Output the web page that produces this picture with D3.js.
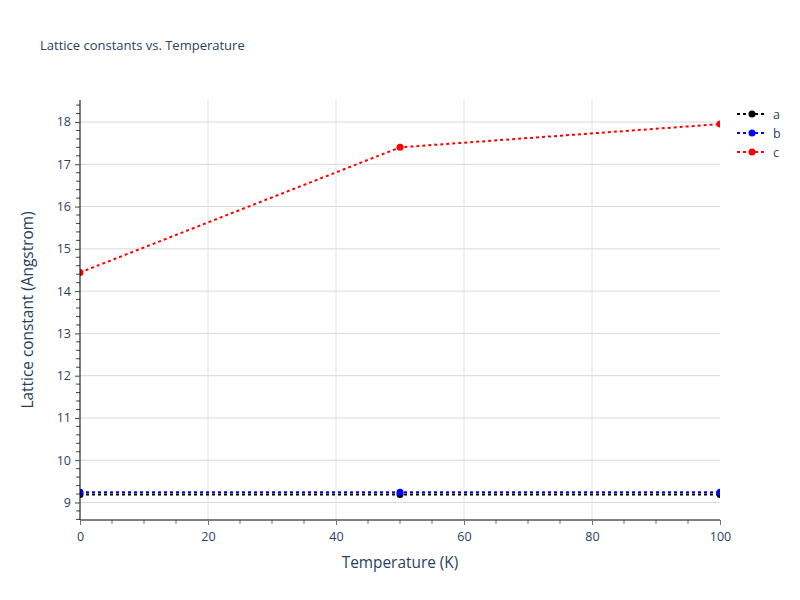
<!DOCTYPE html>
<html>
<head>
<meta charset="utf-8">
<script src="https://cdn.jsdelivr.net/npm/d3@7"></script>
<style>
  body { margin: 0; background: #fff; }
  text { font-family: "Open Sans", sans-serif; }
</style>
</head>
<body>
<svg id="chart" width="800" height="600"></svg>
<script>
// data
var temperatures = [0, 50, 100];
var seriesNames = ['a', 'b', 'c'];
var seriesColors = ['#000000', '#0000ff', '#ff0000'];
var aValues = [9.19, 9.19, 9.19];
var bValues = [9.24, 9.24, 9.24];
var cValues = [14.44, 17.40, 17.95];
var xTicks = [0, 20, 40, 60, 80, 100];
var yTicks = [9, 10, 11, 12, 13, 14, 15, 16, 17, 18];

(function() {
	var series = [aValues, bValues, cValues].map(function(vals, i) {
		return { name: seriesNames[i], color: seriesColors[i], values: vals };
	});

	var svg = d3.select('#chart');
	var mLeft = 80, mRight = 720, mTop = 100, mBottom = 520;
	var textColor = '#2a3f5f';

	var x = d3.scaleLinear().domain([0, 100]).range([mLeft, mRight]);
	var y = d3.scaleLinear().domain([8.586, 18.52]).range([mBottom, mTop]);

	// grid
	svg.append('g').selectAll('line').data(yTicks).enter().append('line')
		.attr('x1', mLeft).attr('x2', mRight)
		.attr('y1', function(d) { return y(d); }).attr('y2', function(d) { return y(d); })
		.attr('stroke', '#d9d9d9').attr('stroke-width', 1);
	svg.append('g').selectAll('line').data(xTicks.slice(1, -1)).enter().append('line')
		.attr('y1', mTop).attr('y2', mBottom)
		.attr('x1', function(d) { return x(d); }).attr('x2', function(d) { return x(d); })
		.attr('stroke', '#e2e2e2').attr('stroke-width', 1);

	// traces, clipped to the plot area
	svg.append('clipPath').attr('id', 'plotclip').append('rect')
		.attr('x', mLeft).attr('y', mTop).attr('width', mRight - mLeft).attr('height', mBottom - mTop);
	var plot = svg.append('g').attr('clip-path', 'url(#plotclip)');

	var line = d3.line()
		.x(function(d, i) { return x(temperatures[i]); })
		.y(function(d) { return y(d); });

	series.forEach(function(s) {
		plot.append('path').datum(s.values)
			.attr('d', line)
			.attr('fill', 'none')
			.attr('stroke', s.color)
			.attr('stroke-width', 2)
			.attr('stroke-dasharray', '3,3');
		plot.selectAll(null).data(s.values).enter().append('circle')
			.attr('cx', function(d, i) { return x(temperatures[i]); })
			.attr('cy', function(d) { return y(d); })
			.attr('r', 3.5)
			.attr('fill', s.color);
	});

	// y axis
	var yAxis = d3.axisLeft(y).tickValues(yTicks).tickSize(5).tickPadding(4).tickFormat(d3.format('d'));
	var yMinor = d3.range(8.6, 18.5, 0.2).filter(function(v) { return Math.abs(v - Math.round(v)) > 0.01; });
	var gy = svg.append('g').attr('transform', 'translate(' + mLeft + ',0)');
	gy.selectAll('line.minor').data(yMinor).enter().append('line')
		.attr('class', 'minor')
		.attr('x1', -4).attr('x2', 0)
		.attr('y1', function(d) { return y(d); }).attr('y2', function(d) { return y(d); })
		.attr('stroke', '#444');
	gy.call(yAxis);
	gy.select('.domain').attr('stroke', '#000').attr('d', 'M0,' + mTop + 'V' + mBottom);
	gy.selectAll('.tick line').attr('stroke', '#444');
	gy.selectAll('.tick text').attr('fill', textColor).style('font-size', '12.5px').style('font-family', '"Open Sans", sans-serif');

	// x axis
	var xAxis = d3.axisBottom(x).tickValues(xTicks).tickSize(5).tickPadding(7);
	var xMinor = d3.range(5, 100, 5).filter(function(v) { return v % 20 !== 0; });
	var gx = svg.append('g').attr('transform', 'translate(0,' + mBottom + ')');
	gx.selectAll('line.minor').data(xMinor).enter().append('line')
		.attr('class', 'minor')
		.attr('x1', function(d) { return x(d); }).attr('x2', function(d) { return x(d); })
		.attr('y1', 0).attr('y2', 4)
		.attr('stroke', '#777');
	gx.call(xAxis);
	gx.select('.domain').attr('stroke', '#000').attr('d', 'M' + mLeft + ',0H' + mRight);
	gx.selectAll('.tick line').attr('stroke', '#777');
	gx.selectAll('.tick text').attr('fill', textColor).style('font-size', '12.5px').style('font-family', '"Open Sans", sans-serif');

	// titles
	svg.append('text').attr('x', 40).attr('y', 50)
		.attr('fill', textColor).style('font-size', '13px')
		.text('Lattice constants vs. Temperature');
	svg.append('text').attr('x', (mLeft + mRight) / 2).attr('y', 568)
		.attr('text-anchor', 'middle').attr('fill', textColor).style('font-size', '15.4px')
		.text('Temperature (K)');
	svg.append('text')
		.attr('transform', 'translate(33,' + ((mTop + mBottom) / 2) + ') rotate(-90)')
		.attr('text-anchor', 'middle').attr('fill', textColor).style('font-size', '15.4px')
		.text('Lattice constant (Angstrom)');

	// legend
	var legend = svg.append('g').attr('transform', 'translate(737,114)');
	series.forEach(function(s, i) {
		var row = legend.append('g').attr('transform', 'translate(0,' + (i * 19) + ')');
		row.append('line').attr('x1', 0).attr('x2', 30).attr('y1', 0).attr('y2', 0)
			.attr('stroke', s.color).attr('stroke-width', 2).attr('stroke-dasharray', '3,3');
		row.append('circle').attr('cx', 15).attr('cy', 0).attr('r', 3.5).attr('fill', s.color);
		row.append('text').attr('x', 36).attr('y', 4.5)
			.attr('fill', textColor).style('font-size', '12.5px').text(s.name);
	});
})();
</script>
</body>
</html>
